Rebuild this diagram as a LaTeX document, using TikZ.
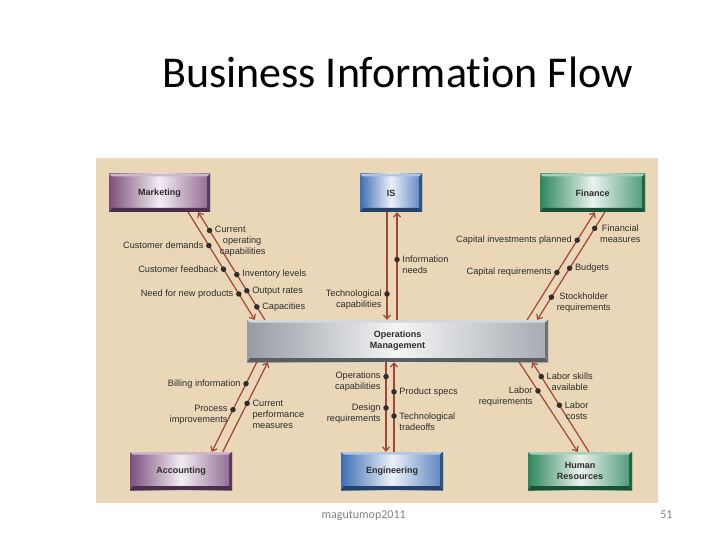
\documentclass[tikz,border=0pt]{standalone}
\usepackage{fontspec}
\setmainfont{Liberation Sans}
\newfontfamily\titlefont[Ligatures={NoCommon,NoContextual}]{Carlito}
\usetikzlibrary{arrows.meta}
\definecolor{beige}{RGB}{233,215,183}
\definecolor{flowc}{RGB}{160,70,55}
\definecolor{dotc}{RGB}{50,45,45}
\definecolor{txtc}{RGB}{45,45,45}
\definecolor{purp}{RGB}{125,78,125}
\definecolor{blu}{RGB}{62,110,180}
\definecolor{grn}{RGB}{45,135,92}
\definecolor{gry}{RGB}{150,156,164}
\tikzset{
  box/.style={shading=axis,left color=#1,right color=#1!85!white,middle color=#1!10!white,
    text=txtc,font=\bfseries\fontsize{9}{11}\selectfont,align=center,inner sep=0pt,
    path picture={
      \fill[#1!40!white] (path picture bounding box.north west)--(path picture bounding box.north east)
        --([shift={(-3pt,-2.5pt)}]path picture bounding box.north east)--([shift={(3pt,-2.5pt)}]path picture bounding box.north west)--cycle;
      \fill[#1!75!black] (path picture bounding box.south east)--(path picture bounding box.north east)
        --([shift={(-3pt,-2.5pt)}]path picture bounding box.north east)--([shift={(-3pt,4pt)}]path picture bounding box.south east)--cycle;
      \fill[#1!60!black] (path picture bounding box.south west)--(path picture bounding box.south east)
        --([shift={(-3pt,4pt)}]path picture bounding box.south east)--([shift={(3pt,4pt)}]path picture bounding box.south west)--cycle;
    }},
  flow/.style={draw=flowc,line width=1.2pt,-{Straight Barb[length=4pt,width=7pt]}},
  dot/.style={circle,fill=dotc,inner sep=0pt,minimum size=5.5pt},
  lab/.style={font=\fontsize{9.2}{11}\selectfont,text=txtc,inner sep=1.5pt},
  L/.style={label={[lab]left:#1}},
  R/.style={label={[lab]right:#1}},
  LL/.style={label={[lab,align=right,yshift=-5.5pt]left:#1}},
  RR/.style={label={[lab,align=left,yshift=-5.5pt]right:#1}},
  RC/.style={label={[lab,align=center,yshift=-5.5pt]right:#1}},
  RRR/.style={label={[lab,align=left,yshift=-11pt]right:#1}}
}
\begin{document}
\begin{tikzpicture}[x=1pt,y=-1pt]
\useasboundingbox (0,0) rectangle (720,540);
\fill[beige] (96,158) rectangle (658,503);
% title and footer
\node[font=\titlefont\fontsize{44}{50}\selectfont,anchor=base] (title) at (397.5,88) {Business Information Flow};
\node[font=\titlefont\fontsize{12}{14}\selectfont,text=gray,anchor=base west] (foot) at (318,518) {magutumop2011};
\node[font=\titlefont\fontsize{12}{14}\selectfont,text=gray,anchor=base east] (pgno) at (676,518) {51};
% boxes
\node[box=purp,minimum width=101pt,minimum height=38pt] (mkt) at (159.5,193) {Marketing};
\node[box=blu,minimum width=62pt,minimum height=38pt] (is) at (391,193) {IS};
\node[box=grn,minimum width=105pt,minimum height=38pt] (fin) at (592.5,193) {Finance};
\node[box=gry,minimum width=301pt,minimum height=42pt] (om) at (397.5,341) {Operations\\Management};
\node[box=purp,minimum width=102pt,minimum height=38pt] (acc) at (181,471) {Accounting};
\node[box=blu,minimum width=102pt,minimum height=38pt] (eng) at (392,471) {Engineering};
\node[box=grn,minimum width=104pt,minimum height=38pt] (hr) at (580,471) {Human\\Resources};
% marketing
\draw[flow] ([xshift=-22pt]mkt.south east)
  -- node[dot,pos=.31,L=Customer demands]{}
     node[dot,pos=.53,L=Customer feedback]{}
     node[dot,pos=.76,L=Need for new products]{}
  ([xshift=8pt]om.north west);
\draw[flow] ([xshift=18pt]om.north west)
  -- node[dot,pos=.83,RRR={Current\\\hspace*{8pt}operating\\\hspace*{5pt}capabilities}]{}
     node[dot,pos=.42,R=Inventory levels]{}
     node[dot,pos=.27,R=Output rates]{}
     node[dot,pos=.12,R=Capacities]{}
  ([xshift=-12pt]mkt.south east);
% information systems
\draw[flow] ([xshift=-4pt]is.south)
  -- node[dot,pos=.76,LL={Technological\\capabilities}]{}
  ([xshift=-4pt]is.south |- om.north);
\draw[flow] ([xshift=6pt]is.south |- om.north)
  -- node[dot,pos=.56,RR={Information\\needs}]{}
  ([xshift=6pt]is.south);
% finance
\draw[flow] ([xshift=-21pt]om.north east)
  -- node[dot,pos=.74,L=Capital investments planned]{}
     node[dot,pos=.44,L=Capital requirements]{}
  ([xshift=55pt]fin.south west);
\draw[flow] ([xshift=65pt]fin.south west)
  -- node[dot,pos=.15,RC={Financial\\measures}]{}
     node[dot,pos=.52,R=Budgets]{}
     node[dot,pos=.79,RC={Stockholder\\requirements}]{}
  ([xshift=-11pt]om.north east);
% accounting
\draw[flow] ([xshift=10pt]om.south west)
  -- node[dot,pos=.24,L=Billing information]{}
     node[dot,pos=.53,LL={Process\\improvements}]{}
  ([xshift=82pt]acc.north west);
\draw[flow] ([xshift=93pt]acc.north west)
  -- node[dot,pos=.54,RRR={Current\\performance\\measures}]{}
  ([xshift=21pt]om.south west);
% engineering
\draw[flow] ([xshift=-6pt]eng.north |- om.south)
  -- node[dot,pos=.16,LL={Operations\\capabilities}]{}
     node[dot,pos=.51,LL={Design\\requirements}]{}
  ([xshift=-6pt]eng.north);
\draw[flow] ([xshift=2pt]eng.north)
  -- node[dot,pos=.67,R=Product specs]{}
     node[dot,pos=.40,RR={Technological\\tradeoffs}]{}
  ([xshift=2pt]eng.north |- om.south);
% human resources
\draw[flow] ([xshift=-29pt]om.south east)
  -- node[dot,pos=.32,LL={Labor\\requirements}]{}
  ([xshift=50pt]hr.north west);
\draw[flow] ([xshift=61pt]hr.north west)
  -- node[dot,pos=.84,RC={Labor skills\\available}]{}
     node[dot,pos=.52,RC={Labor\\costs}]{}
  ([xshift=-16pt]om.south east);
\end{tikzpicture}
\end{document}
